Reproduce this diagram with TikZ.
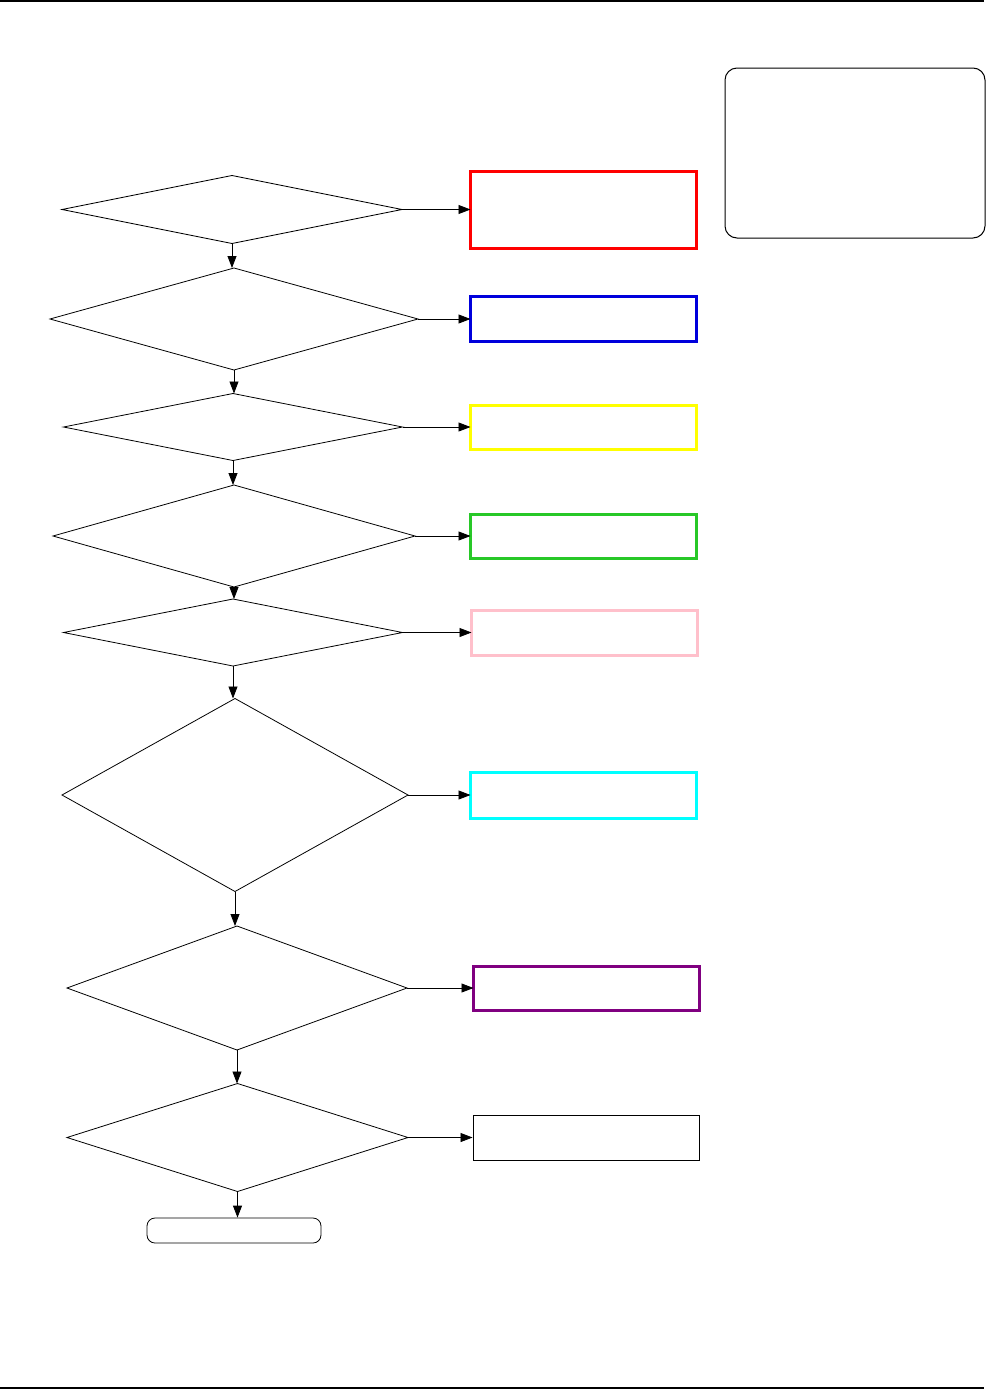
\documentclass[tikz,border=0pt]{standalone}
\usetikzlibrary{shapes.geometric,arrows.meta}
\definecolor{cgreen}{RGB}{40,200,40}
\definecolor{cpink}{RGB}{255,192,203}
\definecolor{cpurple}{RGB}{128,0,128}
\definecolor{cblue}{RGB}{0,0,220}
\definecolor{ccyan}{RGB}{0,255,255}
\definecolor{cyellow}{RGB}{255,255,0}
\definecolor{cred}{RGB}{255,0,0}
\tikzset{
  dec/.style={draw, diamond, inner sep=0pt, outer sep=0pt, line width=0.8pt},
  resbox/.style={draw, rectangle, inner sep=0pt, outer sep=0pt, minimum width=226pt, line width=3pt},
  arr/.style={-{Triangle[length=12pt,width=9pt]}, line width=0.8pt},
}
\begin{document}
\begin{tikzpicture}[x=1pt,y=-1pt]
\useasboundingbox (0,0) rectangle (995,1390);
\draw[line width=1.2pt] (0,1) -- (984,1);
\draw[line width=1.2pt] (0,1388) -- (984,1388);
% legend box
\node[draw, rounded corners=12pt, line width=1pt, minimum width=260pt, minimum height=170pt, inner sep=0pt] (leg) at (855,153) {};
% decisions
\node[dec, minimum width=340pt, minimum height=68pt] (d1) at (232,209.5) {};
\node[dec, minimum width=368pt, minimum height=102pt] (d2) at (234,319) {};
\node[dec, minimum width=339pt, minimum height=67pt] (d3) at (233,427) {};
\node[dec, minimum width=362pt, minimum height=102pt] (d4) at (234,536) {};
\node[dec, minimum width=339pt, minimum height=67pt] (d5) at (233,632.5) {};
\node[dec, minimum width=346pt, minimum height=193pt] (d6) at (235,795) {};
\node[dec, minimum width=340pt, minimum height=124pt] (d7) at (237,988) {};
\node[dec, minimum width=341pt, minimum height=108pt] (d8) at (237.5,1137.5) {};
\node[draw, rounded corners=8pt, line width=0.8pt, minimum width=174pt, minimum height=25pt, inner sep=0pt] (end) at (234,1230.5) {};
% result boxes
\node[resbox, draw=cred, minimum height=77pt] (b1) at (583.5,209.5) {};
\node[resbox, draw=cblue, minimum height=45pt] (b2) at (583.5,319) {};
\node[resbox, draw=cyellow, minimum height=44pt] (b3) at (583.5,427) {};
\node[resbox, draw=cgreen, minimum height=44pt] (b4) at (583.5,536) {};
\node[resbox, draw=cpink, minimum height=45pt] (b5) at (584.5,632.5) {};
\node[resbox, draw=ccyan, minimum height=46pt] (b6) at (583.5,795) {};
\node[resbox, draw=cpurple, minimum height=44pt] (b7) at (586.5,988) {};
\node[draw, rectangle, inner sep=0pt, line width=0.9pt, minimum width=226pt, minimum height=45pt] (b8) at (586,1137.5) {};
% connectors
\foreach \i in {1,...,8} { \draw[arr] (d\i.east) -- (b\i.west); }
\draw[arr] (d1.south) -- (d1.south |- d2.north);
\draw[arr] (d2.south) -- (d2.south |- d3.north);
\draw[arr] (d3.south) -- (d3.south |- d4.north);
\draw[arr] (d4.south) -- (d4.south |- d5.north);
\draw[arr] (d5.south) -- (d5.south |- d6.north);
\draw[arr] (d6.south) -- (d6.south |- d7.north);
\draw[arr] (d7.south) -- (d7.south |- d8.north);
\draw[arr] (d8.south) -- (d8.south |- end.north);
\end{tikzpicture}
\end{document}
